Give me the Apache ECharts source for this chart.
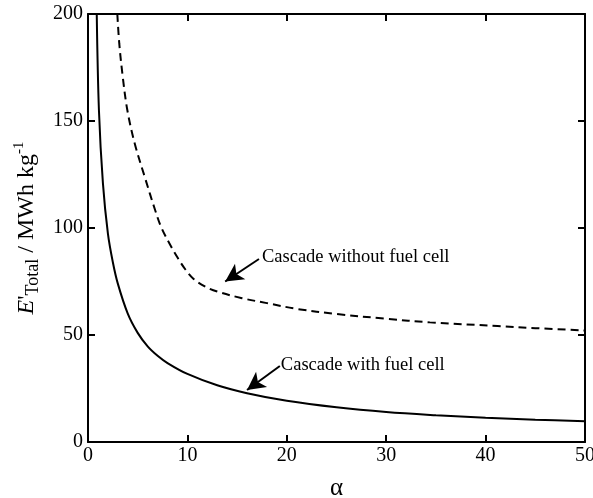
<!DOCTYPE html>
<html>
<head>
<meta charset="utf-8">
<script src="https://cdn.jsdelivr.net/npm/echarts@6/dist/echarts.min.js"></script>
<style>
  html, body { margin: 0; padding: 0; background: #fff; }
  #chart { width: 593px; height: 498px; }
</style>
</head>
<body>
<div id="chart"></div>
<script>
// curve values: [alpha, E'Total]
var withFuelCell = [
  [0.88, 200], [1.1, 155], [1.5, 121], [2, 97.5], [2.5, 84], [3, 74],
  [4, 60], [5, 51], [6, 44.7], [7, 40.3], [8, 36.9], [10, 31.8],
  [13, 26.5], [16, 22.8], [20, 19.25], [25, 16.2], [30, 14], [35, 12.5],
  [40, 11.3], [45, 10.4], [50, 9.7]
];
var withoutFuelCell = [
  [2.95, 200], [3.15, 186], [3.5, 170.5], [3.96, 155], [4.7, 139.5], [5.7, 124],
  [6.75, 108.4], [7.4, 100], [8.4, 91], [9.1, 85.5], [9.8, 80.6], [10.6, 76.3],
  [11.8, 72.6], [13.0, 70.3], [15.5, 67.2], [18, 64.9], [21, 62.2], [25, 59.8],
  [30, 57.6], [34.4, 55.9], [41.2, 54.2], [45, 53.2], [50, 52.1]
];
// annotations: text anchor and arrow (start -> tip), in data units
var noteWithout = { text: 'Cascade without fuel cell', at: [17.5, 86.2], from: [17.2, 85.5], to: [13.8, 75] };
var noteWith = { text: 'Cascade with fuel cell', at: [19.4, 35.8], from: [19.3, 35.5], to: [16.0, 24.3] };

var FONT = '"Liberation Serif", "DejaVu Serif", serif';

var chart = echarts.init(document.getElementById('chart'));

function arrow(n) {
  return [
    { coord: n.from, symbol: 'none' },
    { coord: n.to, symbol: 'arrow', symbolSize: [14, 18] }
  ];
}
function note(n) {
  return {
    coord: n.at, symbol: 'circle', symbolSize: 0,
    label: { show: true, position: 'right', distance: 0, formatter: n.text,
      color: '#000', fontFamily: FONT, fontSize: 18.5 }
  };
}

var axisLine = { show: true, onZero: false, lineStyle: { color: '#000', width: 2 } };
var tick = { show: true, inside: true, length: 7, lineStyle: { color: '#000', width: 2 } };

var option = {
  animation: false,
  backgroundColor: '#fff',
  grid: { left: 88, right: 8, top: 14, bottom: 56, containLabel: false, outerBoundsMode: 'none' },
  xAxis: [{
    type: 'value', min: 0, max: 50, interval: 10,
    axisLine: axisLine, axisTick: tick, splitLine: { show: false },
    axisLabel: { color: '#000', fontFamily: FONT, fontSize: 20, margin: 4 },
    name: 'α', nameLocation: 'middle', nameGap: 34,
    nameTextStyle: { color: '#000', fontFamily: FONT, fontSize: 25 }
  }, {
    type: 'value', position: 'top', min: 0, max: 50, interval: 10,
    axisLine: axisLine, axisTick: tick, axisLabel: { show: false }, splitLine: { show: false }
  }],
  yAxis: [{
    type: 'value', min: 0, max: 200, interval: 50,
    axisLine: axisLine, axisTick: tick, splitLine: { show: false },
    axisLabel: { color: '#000', fontFamily: FONT, fontSize: 20, margin: 5 },
    name: '{e|E}{p|\'}{sub|Total}{n| / MWh kg}{sup|-1}',
    nameLocation: 'middle', nameRotate: 90, nameGap: 46,
    nameTextStyle: {
      color: '#000', fontFamily: FONT, fontSize: 24,
      rich: {
        e: { fontFamily: FONT, fontSize: 24, fontStyle: 'italic', color: '#000', lineHeight: 30, verticalAlign: 'middle' },
        p: { fontFamily: FONT, fontSize: 24, color: '#000', lineHeight: 30, verticalAlign: 'middle' },
        sub: { fontFamily: FONT, fontSize: 18, color: '#000', lineHeight: 30, verticalAlign: 'bottom' },
        n: { fontFamily: FONT, fontSize: 24, color: '#000', lineHeight: 30, verticalAlign: 'middle' },
        sup: { fontFamily: FONT, fontSize: 15, color: '#000', lineHeight: 30, verticalAlign: 'top' }
      }
    }
  }, {
    type: 'value', position: 'right', min: 0, max: 200, interval: 50,
    axisLine: axisLine, axisTick: tick, axisLabel: { show: false }, splitLine: { show: false }
  }],
  series: [{
    name: 'Cascade with fuel cell',
    type: 'line', data: withFuelCell, smooth: 0.35, symbol: 'none',
    lineStyle: { color: '#000', width: 2 },
    markLine: {
      silent: true, label: { show: false },
      lineStyle: { color: '#000', width: 2, type: 'solid' },
      data: [arrow(noteWith)]
    },
    markPoint: { silent: true, data: [note(noteWith)] }
  }, {
    name: 'Cascade without fuel cell',
    type: 'line', data: withoutFuelCell, smooth: 0.35, symbol: 'none',
    lineStyle: { color: '#000', width: 2, type: [8, 5] },
    markLine: {
      silent: true, label: { show: false },
      lineStyle: { color: '#000', width: 2, type: 'solid' },
      data: [arrow(noteWithout)]
    },
    markPoint: { silent: true, data: [note(noteWithout)] }
  }]
};

chart.setOption(option);
</script>
</body>
</html>
